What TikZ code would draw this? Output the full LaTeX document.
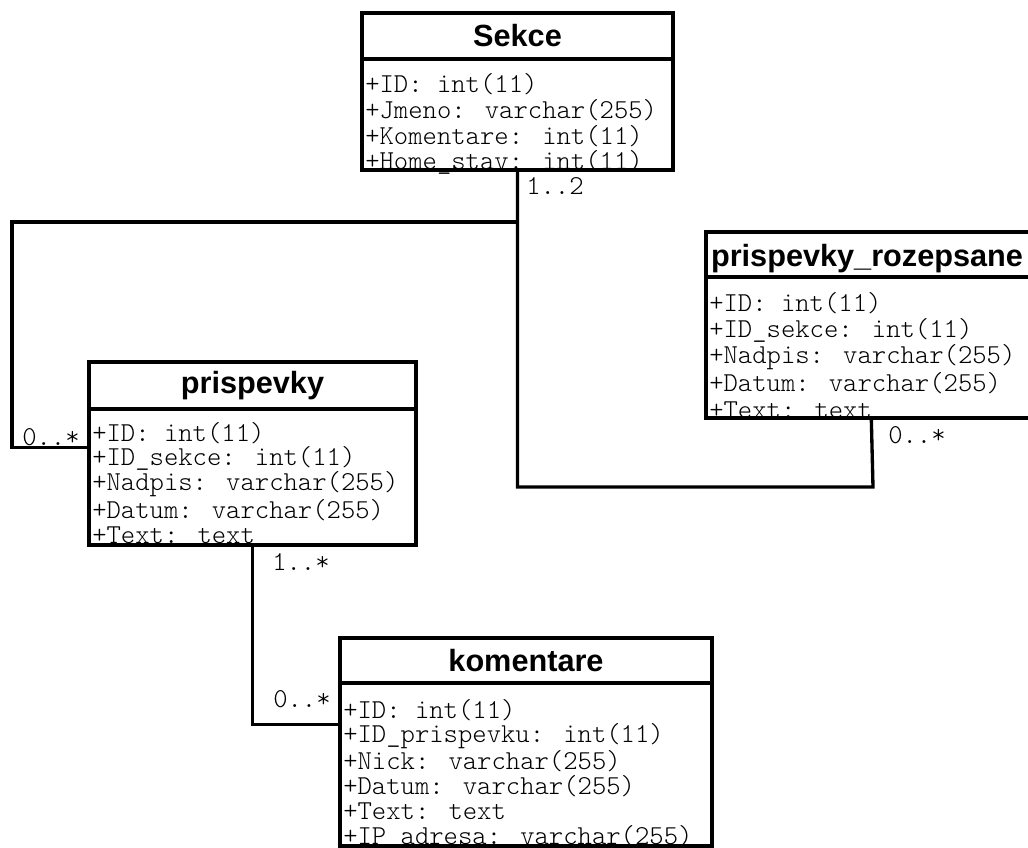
\documentclass[tikz,border=0pt]{standalone}
\usepackage{fontspec}
\newfontfamily\titlefont{Liberation Sans}
\usetikzlibrary{fit,calc}

\begin{document}
\begin{tikzpicture}[x=0.75pt,y=-0.75pt,
  classbox/.style={draw,line width=2.5pt,inner sep=0pt},
  rule/.style={line width=2.5pt},
  link/.style={line width=2.5pt},
  title/.style={anchor=base,inner sep=0pt,font=\titlefont\bfseries\fontsize{23pt}{23pt}\selectfont},
  attr/.style={anchor=west,inner sep=0pt,font=\ttfamily\fontseries{l}\fontsize{20.5pt}{20.5pt}\selectfont},
  mult/.style={attr}]

  \path[use as bounding box,fill=white] (0,0) rectangle (1028,848);

  % tables
  \node[classbox,fit={(362,13) (673,170)}] (sekce) {};
  \node[classbox,fit={(706,232) (1030,418)}] (roz) {};
  \node[classbox,fit={(89,362) (416,545)}] (prispevky) {};
  \node[classbox,fit={(340,638) (712,846)}] (komentare) {};

  \draw[rule] (362,59) -- (673,59);
  \draw[rule] (706,277) -- (1030,277);
  \draw[rule] (89,409) -- (416,409);
  \draw[rule] (340,683) -- (712,683);

  \node[title] (st) at (517.5,47) {Sekce};
  \node[title] (rt) at (867,267) {prispevky\_rozepsane};
  \node[title] (pt) at (252.5,394) {prispevky};
  \node[title] (kt) at (526,671.5) {komentare};

  \node[attr] (s1) at (365,84) {+ID: int(11)};
  \node[attr] (s2) at (365,110) {+Jmeno: varchar(255)};
  \node[attr] (s3) at (365,136) {+Komentare: int(11)};
  \node[attr] (s4) at (365,162) {+Home\_stav: int(11)};

  \node[attr] (r1) at (709,303) {+ID: int(11)};
  \node[attr] (r2) at (709,330) {+ID\_sekce: int(11)};
  \node[attr] (r3) at (709,357) {+Nadpis: varchar(255)};
  \node[attr] (r4) at (709,383) {+Datum: varchar(255)};
  \node[attr] (r5) at (709,410) {+Text: text};

  \node[attr] (p1) at (92,433) {+ID: int(11)};
  \node[attr] (p2) at (92,458) {+ID\_sekce: int(11)};
  \node[attr] (p3) at (92,484) {+Nadpis: varchar(255)};
  \node[attr] (p4) at (92,510) {+Datum: varchar(255)};
  \node[attr] (p5) at (92,535) {+Text: text};

  \node[attr] (k1) at (343,710) {+ID: int(11)};
  \node[attr] (k2) at (343,736) {+ID\_prispevku: int(11)};
  \node[attr] (k3) at (343,761) {+Nick: varchar(255)};
  \node[attr] (k4) at (343,786) {+Datum: varchar(255)};
  \node[attr] (k5) at (343,811) {+Text: text};
  \node[attr] (k6) at (343,837) {+IP\_adresa: varchar(255)};

  % connectors
  \coordinate (rozport) at ($(roz.south west)+(167,0)$);
  \coordinate (prisport) at ($(prispevky.north west)+(0,87)$);
  \coordinate (komport) at ($(komentare.north west)+(0,88)$);
  \coordinate (lowbus) at (873,487);
  \coordinate (tee) at (517.5,222);
  \coordinate (leftbus) at (12,222);

  \draw[link] (sekce.south) |- (lowbus) -- (rozport);
  \draw[link] (tee) -- (leftbus) |- (prisport);
  \draw[link] (prispevky.south) |- (komport);

  \node[mult] (m1) at (526,186) {1..2};
  \node[mult] (m2) at (888,435) {0..*};
  \node[mult] (m3) at (22,437) {0..*};
  \node[mult] (m4) at (272,562) {1..*};
  \node[mult] (m5) at (273,699) {0..*};
\end{tikzpicture}
\end{document}
